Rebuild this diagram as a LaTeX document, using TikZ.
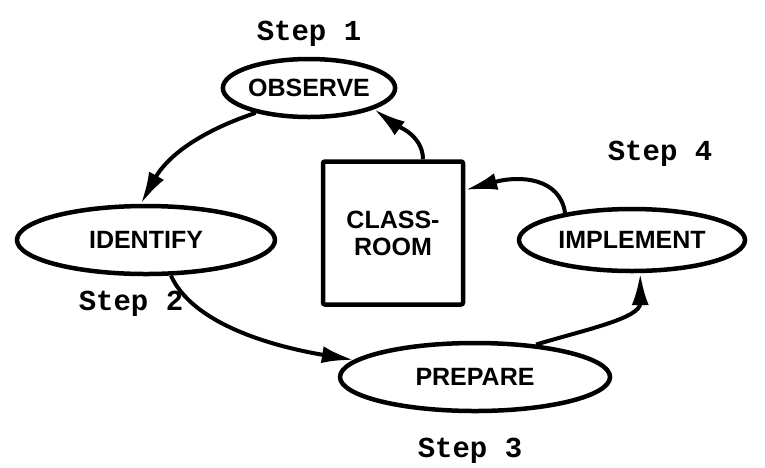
\documentclass[tikz,border=0pt]{standalone}
\usepackage{fontspec}
\setmainfont{Liberation Sans}
\newfontfamily\typew{Liberation Mono}
\usetikzlibrary{shapes.geometric,arrows.meta}
\begin{document}
\begin{tikzpicture}[x=1pt,y=-1pt,
  stage/.style={ellipse,draw,line width=4.5pt,inner sep=0pt,
    font=\fontsize{25}{26}\selectfont\bfseries},
  steplabel/.style={font=\typew\bfseries\fontsize{29}{30}\selectfont},
  flow/.style={line width=4pt,-{Latex[length=32pt,width=17pt]}},
  roombox/.style={draw,line width=4.5pt,rounded corners=2pt,minimum width=140pt,minimum height=143pt,
    align=center,font=\fontsize{25}{27}\selectfont\bfseries}]
\useasboundingbox (0,0) rectangle (765,467);
\node[stage,minimum width=166pt,minimum height=58pt] (obs) at (309,88) {OBSERVE};
\node[stage,minimum width=258pt,minimum height=68pt] (idf) at (146,240) {IDENTIFY};
\node[stage,minimum width=270pt,minimum height=68pt] (prep) at (475,377) {PREPARE};
\node[stage,minimum width=226pt,minimum height=62pt] (impl) at (632,240) {IMPLEMENT};
\node[roombox] (room) at (393,233) {CLASS-\\ROOM};
\node[steplabel] (s1) at (309,34) {Step 1};
\node[steplabel] (s2) at (131,304) {Step 2};
\node[steplabel] (s3) at (470,451) {Step 3};
\node[steplabel] (s4) at (660,154) {Step 4};
\draw[flow] (obs.205) .. controls +(-60,20) and +(25,-45) .. (idf.98);
\draw[flow] (idf.-55) .. controls +(25,55) and +(-60,-10) .. (prep.172);
\draw[flow] (prep.28) .. controls +(50,-15) and +(0,45) .. (impl.-76);
\draw[flow] (impl.158) .. controls +(-5,-35) and +(55,-15) .. (room.north east|-0,190);
\draw[flow] ([xshift=30pt]room.north) .. controls +(0,-25) and +(20,15) .. (obs.-18);
\end{tikzpicture}
\end{document}
